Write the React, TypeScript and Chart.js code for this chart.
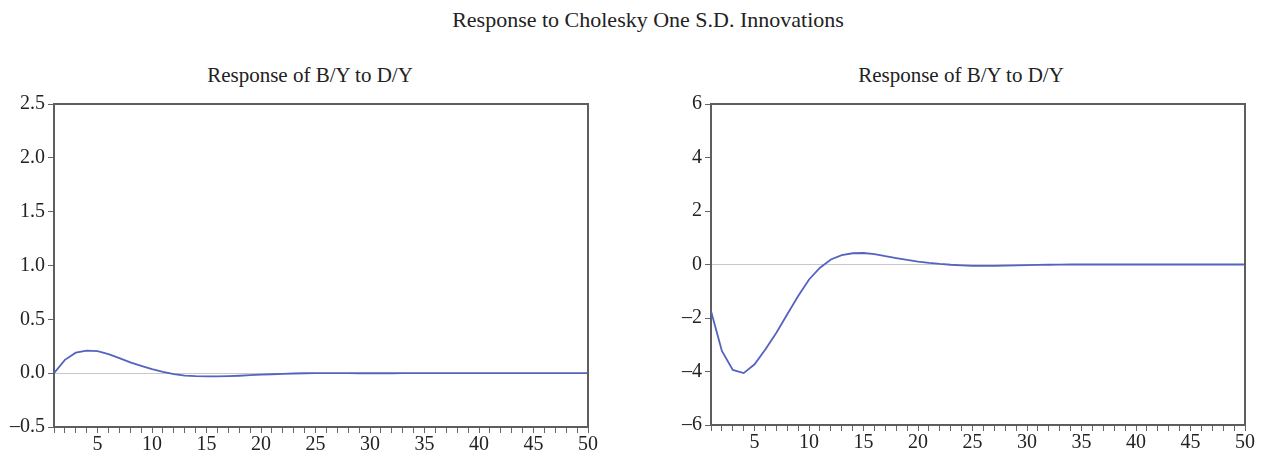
import React, { useEffect, useRef } from "react";
import { Chart, registerables } from "chart.js";

Chart.register(...registerables);

const periods: number[] = Array.from({ length: 50 }, (_, i) => i + 1);

const leftValues: number[] = [
  0.0, 0.124, 0.19, 0.21, 0.205, 0.176, 0.14, 0.10, 0.068, 0.037,
  0.012, -0.009, -0.022, -0.028, -0.03, -0.03, -0.028, -0.024, -0.019, -0.014,
  -0.01, -0.006, -0.003, -0.001, 0.0, 0.0, 0.0, 0.0, -0.001, -0.001,
  -0.001, -0.001, 0.0, 0.0, 0.0, 0.0, 0.0, 0.0, 0.0, 0.0,
  0.0, 0.0, 0.0, 0.0, 0.0, 0.0, 0.0, 0.0, 0.0, 0.0,
];

const rightValues: number[] = [
  -1.74, -3.23, -3.94, -4.06, -3.73, -3.17, -2.55, -1.86, -1.18, -0.56,
  -0.12, 0.19, 0.35, 0.42, 0.43, 0.39, 0.31, 0.24, 0.17, 0.11,
  0.06, 0.02, -0.01, -0.03, -0.05, -0.05, -0.05, -0.04, -0.03, -0.02,
  -0.015, -0.01, -0.005, 0.0, 0.0, 0.0, 0.0, 0.0, 0.0, 0.0,
  0.0, 0.0, 0.0, 0.0, 0.0, 0.0, 0.0, 0.0, 0.0, 0.0,
];

const mainTitle = "Response to Cholesky One S.D. Innovations";
const leftTitle = "Response of B/Y to D/Y";
const rightTitle = "Response of B/Y to D/Y";

const leftYTicks = { min: -0.5, max: 2.5, step: 0.5, decimals: 1 };
const rightYTicks = { min: -6, max: 6, step: 2, decimals: 0 };

const FONT = "'Liberation Serif', 'Times New Roman', serif";
const LINE_COLOR = "#5563c0";
const AXIS_COLOR = "#5e5e5e";

const framePlugin = {
  id: "frame",
  afterDraw(chart: any) {
    const { ctx, chartArea } = chart;
    ctx.save();
    ctx.strokeStyle = AXIS_COLOR;
    ctx.lineWidth = 2;
    ctx.beginPath();
    ctx.moveTo(chartArea.left, chartArea.top);
    ctx.lineTo(chartArea.right, chartArea.top);
    ctx.lineTo(chartArea.right, chartArea.bottom);
    ctx.stroke();
    ctx.restore();
  },
};

function fmt(v: number, d: number): string {
  const s = Math.abs(v).toFixed(d);
  return v < 0 ? "\u2013" + s : s;
}

function IRFChart(props: {
  values: number[];
  yt: { min: number; max: number; step: number; decimals: number };
  left: number;
  width: number;
  padRight: number;
  padBottom: number;
}) {
  const ref = useRef<HTMLCanvasElement | null>(null);
  useEffect(() => {
    if (!ref.current) return;
    const { yt } = props;
    const chart = new Chart(ref.current, {
      type: "line",
      data: {
        datasets: [
          {
            data: periods.map((p, i) => ({ x: p, y: props.values[i] })),
            borderColor: LINE_COLOR,
            borderWidth: 1.8,
            pointRadius: 0,
            tension: 0,
            fill: false,
          },
        ],
      },
      options: {
        animation: false,
        responsive: false,
        maintainAspectRatio: false,
        layout: { padding: { top: 104, right: props.padRight, bottom: props.padBottom, left: 0 } },
        plugins: { legend: { display: false }, title: { display: false }, tooltip: { enabled: false } },
        scales: {
          x: {
            type: "linear",
            min: 1,
            max: 50,
            afterFit: (s: any) => { s.height = 28; },
            afterBuildTicks: (s: any) => {
              s.ticks = periods.map((p) => ({ value: p }));
            },
            ticks: {
              autoSkip: false,
              maxRotation: 0,
              padding: 0,
              color: "#222",
              font: { family: FONT, size: 20 },
              callback: (v: any) => (Number(v) % 5 === 0 ? String(v) : ""),
            },
            grid: {
              drawOnChartArea: false,
              drawTicks: true,
              tickLength: 6,
              tickColor: "#666",
              lineWidth: 1,
            },
            border: { display: true, color: AXIS_COLOR, width: 2 },
          },
          y: {
            type: "linear",
            min: yt.min,
            max: yt.max,
            afterFit: (s: any) => { s.width = 54; },
            ticks: {
              stepSize: yt.step,
              padding: 3,
              color: "#222",
              font: { family: FONT, size: 20 },
              callback: (v: any) => fmt(Number(v), yt.decimals),
            },
            grid: {
              drawOnChartArea: true,
              drawTicks: true,
              tickLength: 6,
              color: (c: any) => (c.tick && Math.abs(c.tick.value) < 1e-9 ? "#c8c8c8" : "rgba(0,0,0,0)"),
              tickColor: "#666",
              lineWidth: 1,
            },
            border: { display: true, color: AXIS_COLOR, width: 2 },
          },
        },
      },
      plugins: [framePlugin],
    });
    return () => chart.destroy();
  }, []);
  return (
    <canvas
      ref={ref}
      width={props.width}
      height={455}
      style={{ position: "absolute", left: props.left, top: 0, width: props.width, height: 455 }}
    />
  );
}

const textStyle: React.CSSProperties = {
  position: "absolute",
  fontFamily: FONT,
  fontSize: 21,
  color: "#222",
  whiteSpace: "nowrap",
  transform: "translateX(-50%)",
  lineHeight: "24px",
};

export default function App() {
  return (
    <div style={{ position: "absolute", left: 0, top: 0, width: 1263, height: 455, background: "#fff", overflow: "hidden" }}>
      <div style={{ ...textStyle, fontSize: 22, left: 648, top: 8 }}>{mainTitle}</div>
      <div style={{ ...textStyle, left: 310, top: 63 }}>{leftTitle}</div>
      <div style={{ ...textStyle, left: 961, top: 63 }}>{rightTitle}</div>
      <IRFChart values={leftValues} yt={leftYTicks} left={0} width={600} padRight={12} padBottom={0} />
      <IRFChart values={rightValues} yt={rightYTicks} left={657} width={606} padRight={18} padBottom={2} />
    </div>
  );
}
